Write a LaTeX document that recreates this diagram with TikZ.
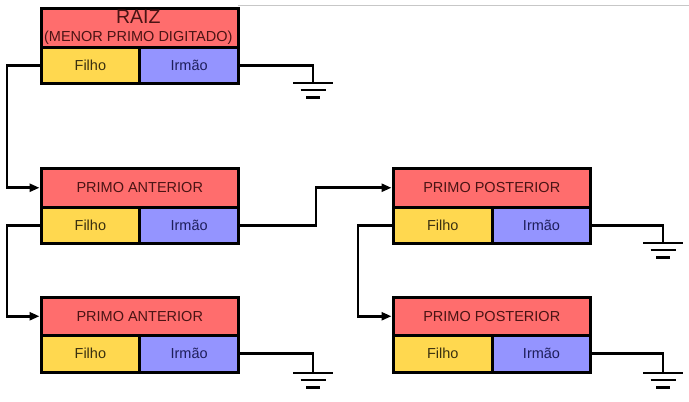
\documentclass[tikz,border=0pt]{standalone}
\usepackage{fontspec}
\setmainfont{Liberation Sans}
\usetikzlibrary{arrows.meta}
\definecolor{cred}{HTML}{FF6D6D}
\definecolor{cyel}{HTML}{FFD84F}
\definecolor{cblu}{HTML}{9494FF}
\definecolor{tred}{HTML}{4A1414}
\definecolor{tyel}{HTML}{3A3010}
\definecolor{tblu}{HTML}{1E1E5A}
\begin{document}
\begin{tikzpicture}[x=1pt,y=-1pt,
  cell/.style={draw=black, line width=3pt, rectangle, inner sep=0pt, anchor=north west,
    font=\fontsize{14.5}{16}\selectfont},
  headcell/.style={cell, fill=cred, text=tred, minimum width=197.5pt},
  filhocell/.style={cell, fill=cyel, text=tyel},
  irmaocell/.style={cell, fill=cblu, text=tblu},
  wire/.style={line width=2.8pt, line join=miter},
  arr/.style={wire, -{Triangle[length=10pt,width=8pt]}},
  groundbar/.style={line width=2.8pt},
  ground/.pic={\draw[groundbar] (-20,0) -- (20,0) (-12.5,7) -- (12.5,7) (-7,14.5) -- (7,14.5);}
]
\useasboundingbox (0,0) rectangle (689,402);
\fill[white] (0,0) rectangle (689,402);
\draw[black!22, line width=1pt] (238,5) -- (689,5);

% root
\node[headcell, minimum height=39.5pt] (rt) at (39.5,6.5) {};
\node[text=tred, anchor=base, inner sep=0pt, font=\fontsize{19.5}{20}\selectfont] (rtitle) at (138.25,23.3) {RAIZ};
\node[text=tred, anchor=base, inner sep=0pt, font=\fontsize{14.5}{16}\selectfont] (rsub) at (138.25,41) {(MENOR PRIMO DIGITADO)};
\node[filhocell, minimum width=98.75pt, minimum height=36pt] (rf) at (39.5,46) {Filho};
\node[irmaocell, minimum width=98.75pt, minimum height=36pt] (ri) at (138.25,46) {Irmão};

% primo anterior 1
\node[headcell, minimum height=38.5pt] (a1t) at (39.5,167) {PRIMO ANTERIOR};
\node[filhocell, minimum width=98.75pt, minimum height=36.5pt] (a1f) at (39.5,205.5) {Filho};
\node[irmaocell, minimum width=98.75pt, minimum height=36.5pt] (a1i) at (138.25,205.5) {Irmão};

% primo anterior 2
\node[headcell, minimum height=37.5pt] (a2t) at (39.5,296) {PRIMO ANTERIOR};
\node[filhocell, minimum width=98.75pt, minimum height=37.5pt] (a2f) at (39.5,333.5) {Filho};
\node[irmaocell, minimum width=98.75pt, minimum height=37.5pt] (a2i) at (138.25,333.5) {Irmão};

% primo posterior 1
\node[headcell, minimum height=38.5pt] (p1t) at (391.5,167) {PRIMO POSTERIOR};
\node[filhocell, minimum width=99.5pt, minimum height=36.5pt] (p1f) at (391.5,205.5) {Filho};
\node[irmaocell, minimum width=98pt, minimum height=36.5pt] (p1i) at (491,205.5) {Irmão};

% primo posterior 2
\node[headcell, minimum height=37.5pt] (p2t) at (391.5,296) {PRIMO POSTERIOR};
\node[filhocell, minimum width=99.5pt, minimum height=37.5pt] (p2f) at (391.5,333.5) {Filho};
\node[irmaocell, minimum width=98pt, minimum height=37.5pt] (p2i) at (491,333.5) {Irmão};

% connectors
\draw[arr] (rf.west) -- ++(-32.5,0) |- (a1t.west);
\draw[arr] (a1f.west) -- ++(-32.5,0) |- (a2t.west);
\draw[arr] (a1i.east) -- ++(76,0) |- (p1t.west);
\draw[arr] (p1f.west) -- ++(-33.5,0) |- (p2t.west);

% grounds
\coordinate (g0) at (313,83);
\coordinate (g1) at (663,243);
\coordinate (g2) at (313,373);
\coordinate (g3) at (663,373);
\draw[wire] (ri.east) -| (g0);
\draw[wire] (p1i.east) -| (g1);
\draw[wire] (a2i.east) -| (g2);
\draw[wire] (p2i.east) -| (g3);
\pic at (g0) {ground};
\pic at (g1) {ground};
\pic at (g2) {ground};
\pic at (g3) {ground};
\end{tikzpicture}
\end{document}
